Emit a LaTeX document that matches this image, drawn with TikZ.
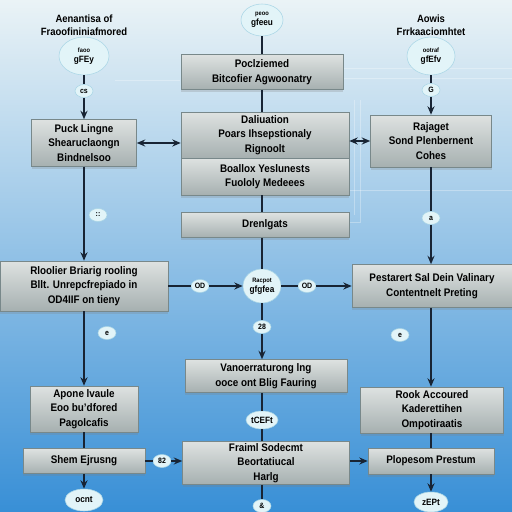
\documentclass[tikz,border=0pt]{standalone}
\usepackage{fontspec}
\setmainfont[FakeStretch=0.9]{Liberation Sans}
\usetikzlibrary{arrows.meta,shapes.geometric,shadows}

\newlength\px
\setlength\px{0.025cm}
\newcommand\upper[1]{{\fontsize{4.5}{5.5}\selectfont #1}}

\definecolor{bgtop}{RGB}{234,243,246}
\definecolor{bgmid}{RGB}{112,186,229}
\definecolor{bgbot}{RGB}{56,143,214}
\definecolor{boxtop}{RGB}{222,226,225}
\definecolor{boxbot}{RGB}{166,176,176}
\definecolor{boxedge}{RGB}{120,136,138}
\definecolor{bubfill}{RGB}{226,244,248}
\definecolor{bubedge}{RGB}{170,214,230}
\definecolor{linecol}{RGB}{24,36,52}

\begin{document}
\begin{tikzpicture}[
  x=0.025cm,
  y=-0.025cm,
  font=\fontsize{7.8}{10.3}\selectfont\bfseries,
  panel/.style={draw=boxedge, top color=boxtop, bottom color=boxbot, align=center,
    inner sep=1pt, drop shadow={shadow xshift=0pt, shadow yshift=-2pt, opacity=0.25}},
  bubble/.style={ellipse, draw=bubedge, fill=bubfill, align=center, inner sep=0pt,
    font=\fontsize{6.5}{7}\selectfont\bfseries},
  tag/.style={ellipse, draw=bubedge, fill=bubfill, inner sep=0.5pt,
    minimum width=18\px, minimum height=13\px, font=\fontsize{5.5}{6}\selectfont\bfseries},
  heading/.style={align=center, font=\fontsize{7.5}{9.5}\selectfont\bfseries},
  link/.style={draw=linecol, line width=1.1pt},
  arr/.style={link, -{Stealth[length=6pt,width=5pt]}},
  both/.style={link, {Stealth[length=6pt,width=5pt]}-{Stealth[length=6pt,width=5pt]}}
]

% Background
\shade[top color=bgtop, middle color=bgmid, bottom color=bgbot] (0,0) rectangle (512,512);
\useasboundingbox (0,0) rectangle (512,512);

% Faint guide lines
\draw[white, opacity=0.3, line width=0.6pt] (115,80) -- (180,80);
\draw[white, opacity=0.3, line width=0.6pt] (342,68) -- (512,68);
\draw[white, opacity=0.3, line width=0.6pt] (342,78) -- (512,78);
\draw[white, opacity=0.3, line width=0.6pt] (350,190) -- (512,190);
\draw[white, opacity=0.3, line width=0.6pt] (350,222) -- (360,222) -- (360,100);
\draw[white, opacity=0.3, line width=0.6pt] (354,215) -- (354,100);

% Left column
\node[heading] (lblL) at (84,25) {Aenantisa of\\Fraoofininiafmored};
\node[bubble, minimum width=50\px, minimum height=38\px] (ellL) at (84,56) {\upper{faoo}\\gFEy};
\node[tag] (tL1) at (84,91) {cs};
\node[panel, minimum width=105\px, minimum height=47\px] (boxL1) at (84,143)
  {Puck Lingne\\Shearuclaongn\\Bindnelsoo};
\node[tag] (tL2) at (98,215) {::};
\node[panel, minimum width=168\px, minimum height=50\px] (boxL2) at (84,286)
  {Rloolier Briarig rooling\\Bllt. Unrepcfrepiado in\\OD4IIF on tieny};
\node[tag] (tL3) at (107,333) {e};
\node[panel, minimum width=108\px, minimum height=46\px] (boxL3) at (84,409)
  {Apone lvaule\\Eoo bu'dfored\\Pagolcafis};
\node[panel, minimum width=122\px, minimum height=25\px] (boxL4) at (84,461) {Shem Ejrusng};
\node[tag] (tL4) at (162,461) {82};
\node[bubble, minimum width=38\px, minimum height=22\px] (ellL2) at (84,500) {ocnt};

% Centre column
\node[bubble, minimum width=42\px, minimum height=32\px] (ellC) at (262,20) {\upper{peoo}\\gfeeu};
\node[panel, minimum width=162\px, minimum height=35\px] (boxC1) at (262,72)
  {Poclziemed\\Bitcofier Agwoonatry};
\node[panel, minimum width=168\px, minimum height=46\px] (boxC2) at (265,135)
  {Daliuation\\Poars Ihsepstionaly\\Rignoolt};
\node[panel, minimum width=168\px, minimum height=37\px] (boxC3) at (265,176.5)
  {Boallox Yeslunests\\Fuololy Medeees};
\node[panel, minimum width=168\px, minimum height=25\px] (boxC4) at (265,225) {Drenlgats};
\node[bubble, minimum width=38\px, minimum height=34\px] (ellC2) at (262,286) {\upper{Racpot}\\gfgfea};
\node[tag] (tC1) at (200,286) {OD};
\node[tag] (tC2) at (307,286) {OD};
\node[tag] (tC3) at (262,327) {28};
\node[panel, minimum width=162\px, minimum height=33\px] (boxC5) at (266,376)
  {Vanoerraturong lng\\ooce ont Blig Fauring};
\node[bubble, minimum width=32\px, minimum height=18\px] (ellC3) at (262,420) {tCEFt};
\node[panel, minimum width=167\px, minimum height=43\px] (boxC6) at (266,463)
  {Fraiml Sodecmt\\Beortatiucal\\Harlg};
\node[tag] (tC4) at (262,506) {\&};

% Right column
\node[heading] (lblR) at (431,25) {Aowis\\Frrkaaciomhtet};
\node[bubble, minimum width=48\px, minimum height=38\px] (ellR) at (431,56) {\upper{ootraf}\\gfEfv};
\node[tag] (tR1) at (431,90) {G};
\node[panel, minimum width=121\px, minimum height=52\px] (boxR1) at (431,141)
  {Rajaget\\Sond Plenbernent\\Cohes};
\node[tag] (tR2) at (431,218) {a};
\node[panel, minimum width=160\px, minimum height=43\px] (boxR2) at (432,286)
  {Pestarert Sal Dein Valinary\\Contentnelt Preting};
\node[tag] (tR3) at (400,335) {e};
\node[panel, minimum width=143\px, minimum height=46\px] (boxR3) at (432,410)
  {Rook Accoured\\Kaderettihen\\Ompotiraatis};
\node[panel, minimum width=126\px, minimum height=26\px] (boxR4) at (431,461) {Plopesom Prestum};
\node[bubble, minimum width=34\px, minimum height=20\px] (ellR2) at (431,502) {zEPt};

% Connectors, left
\draw[link] (ellL) -- (tL1);
\draw[arr] (tL1) -- (boxL1);
\draw[arr] (boxL1) -- (boxL2);
\draw[arr] (boxL2) -- (boxL3);
\draw[link] (boxL3) -- (boxL4);
\draw[arr] (boxL4) -- (ellL2);
\draw[link] (boxL4) -- (tL4);
\draw[arr] (tL4) -- (tL4 -| boxC6.west);

% Connectors, centre
\draw[link] (ellC) -- (boxC1);
\draw[link] (boxC1) -- (boxC1.south |- boxC2.north);
\draw[link] (boxC3.south -| ellC2) -- (boxC4.north -| ellC2);
\draw[link] (boxC4.south -| ellC2) -- (ellC2);
\draw[both] (boxL1.east) -- (boxL1.east -| boxC2.west);
\draw[both] (boxR1.west) -- (boxR1.west -| boxC2.east);
\draw[link] (boxL2) -- (tC1);
\draw[arr] (tC1) -- (ellC2);
\draw[link] (ellC2) -- (tC2);
\draw[arr] (tC2) -- (boxR2);
\draw[link] (ellC2) -- (tC3);
\draw[arr] (tC3) -- (tC3 |- boxC5.north);
\draw[link] (boxC5.south -| ellC3) -- (ellC3);
\draw[link] (ellC3) -- (ellC3 |- boxC6.north);
\draw[link] (boxC6.south -| tC4) -- (tC4);
\draw[arr] (boxC6.east |- boxR4) -- (boxR4.west);

% Connectors, right
\draw[link] (ellR) -- (tR1);
\draw[arr] (tR1) -- (boxR1);
\draw[link] (boxR1) -- (tR2);
\draw[arr] (tR2) -- (tR2 |- boxR2.north);
\draw[arr] (boxR2.south -| tR2) -- (tR2 |- boxR3.north);
\draw[link] (boxR3.south -| boxR4) -- (boxR4);
\draw[arr] (boxR4) -- (ellR2);

\end{tikzpicture}
\end{document}
